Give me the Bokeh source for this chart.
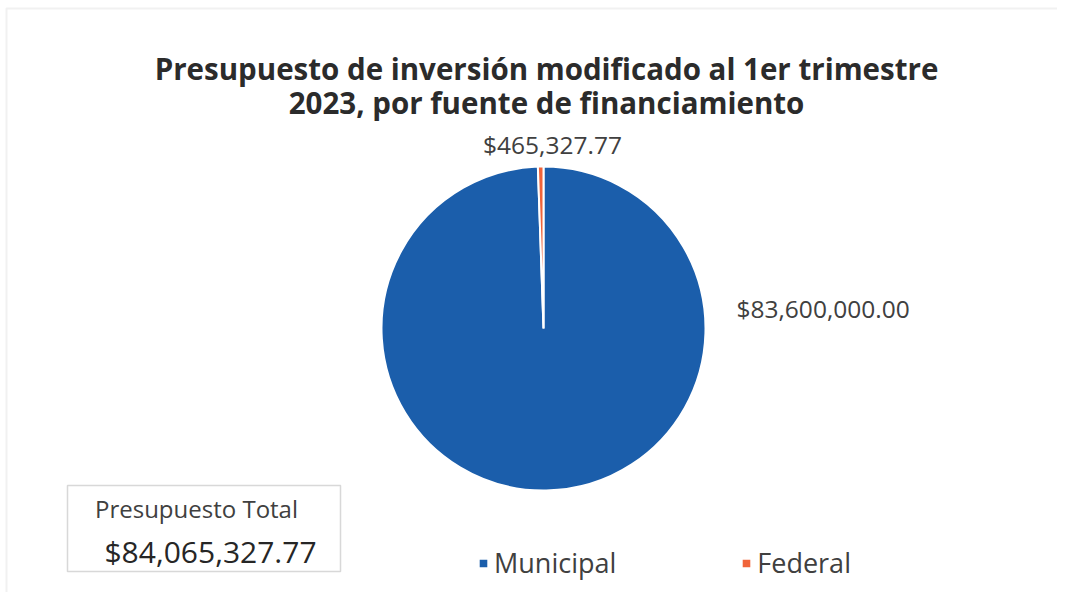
import math
from bokeh.plotting import figure
from bokeh.models import Label, BoxAnnotation, Legend, LegendItem, Range1d
from bokeh.embed import file_html
from bokeh.resources import INLINE

# ---- data ----
categories = ["Municipal", "Federal"]
values = [83600000.00, 465327.77]
colors = ["#1B5EAB", "#F0643A"]
title_lines = ["Presupuesto de inversión modificado al 1er trimestre",
               "2023, por fuente de financiamiento"]
total_label = "Presupuesto Total"

W, H = 1057, 592
FONT = "Open Sans"

p = figure(width=W, height=H, output_backend="svg", toolbar_location=None,
           x_range=Range1d(0, W), y_range=Range1d(0, H), min_border=0)
p.axis.visible = False
p.grid.visible = False
p.outline_line_color = None
p.background_fill_color = "white"
p.border_fill_color = "white"

# outer chart border
p.add_layout(BoxAnnotation(left=6, right=1066, bottom=-20, top=584, fill_alpha=0,
                           line_color="#D0D0D0", line_width=2))

total = sum(values)
starts, ends = [], []
a = math.pi / 2
for v in values:
    starts.append(a)
    a = a - v / total * 2 * math.pi
    ends.append(a)

cx, cy, r = 543, 264, 162
renderers = []
for i in range(len(categories)):
    rr = p.wedge(x=cx, y=cy, radius=r, start_angle=starts[i], end_angle=ends[i],
                 direction="clock", fill_color=colors[i], line_color="white", line_width=2)
    renderers.append(rr)

# title
for txt, y in zip(title_lines, [524, 490]):
    p.add_layout(Label(x=546, y=y, text=txt, text_align="center", text_baseline="middle",
                       text_font=FONT, text_font_style="bold", text_font_size="29.5px",
                       text_color="#2B2B2B"))

# data labels
fmt = lambda v: f"${v:,.2f}"
p.add_layout(Label(x=552, y=448, text=fmt(values[1]), text_align="center", text_baseline="middle",
                   text_font=FONT, text_font_size="24.5px", text_color="#404040"))
p.add_layout(Label(x=736, y=284, text=fmt(values[0]), text_align="left", text_baseline="middle",
                   text_font=FONT, text_font_size="24.5px", text_color="#404040"))

# total box
p.add_layout(BoxAnnotation(left=67, right=340, bottom=21, top=107, fill_alpha=0,
                           line_color="#7F7F7F", line_width=1.5))
p.add_layout(Label(x=196, y=84, text=total_label, text_align="center", text_baseline="middle",
                   text_font=FONT, text_font_size="24px", text_color="#404040"))
p.add_layout(Label(x=210, y=41, text=fmt(total), text_align="center", text_baseline="middle",
                   text_font=FONT, text_font_size="30px", text_color="#262626"))

legend = Legend(items=[LegendItem(label=c, renderers=[rr]) for c, rr in zip(categories, renderers)],
                orientation="horizontal", location=(477, 11), padding=0, margin=0,
                border_line_color=None, background_fill_alpha=0,
                glyph_width=12, glyph_height=12, label_standoff=5, spacing=124,
                label_text_font=FONT, label_text_font_size="27px", label_text_color="#404040")
p.add_layout(legend, "center")

open("out.html", "w").write(file_html(p, INLINE))
